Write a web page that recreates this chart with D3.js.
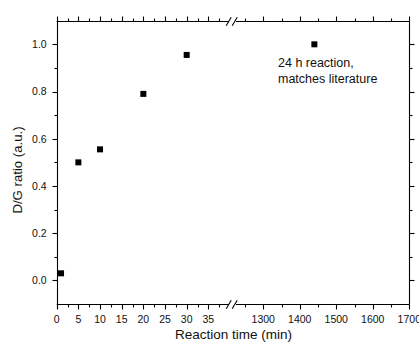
<!DOCTYPE html>
<html><head><meta charset="utf-8">
<script src="https://cdn.jsdelivr.net/npm/d3@7"></script>
<style>
html,body{margin:0;padding:0;background:#fff;overflow:hidden;}
text{font-family:"Liberation Sans",Arial,sans-serif;fill:#111;}
</style></head>
<body><svg id="c" width="419" height="347"></svg>
<script>
// Data
const times = [1, 5, 10, 20, 30, 1440];
const ratios = [0.03, 0.50, 0.555, 0.79, 0.955, 1.0];
const xTicksSeg1 = [0, 5, 10, 15, 20, 25, 30, 35];
const xTicksSeg2 = [1300, 1400, 1500, 1600, 1700];
const yTicks = [0.0, 0.2, 0.4, 0.6, 0.8, 1.0];
const annotation = ["24 h reaction,", "matches literature"];
const xTitle = "Reaction time (min)";
const yTitle = "D/G ratio (a.u.)";

const svg = d3.select("#c");
const L = 56.7, R = 409.3, T = 20.7, B = 304;
const sx1 = d3.scaleLinear().domain([0, 40]).range([L, 230]);
const sx2 = d3.scaleLinear().domain([1250, 1700]).range([245, R]);
const sy = d3.scaleLinear().domain([-0.1, 1.1]).range([B, T]);
const xs = v => v <= 40 ? sx1(v) : sx2(v);

const g = svg.append("g");
const stroke = "#000";

const minor1 = d3.range(2.5, 40, 5);
const minor2 = d3.range(1250, 1700, 100);
const yMinor = d3.range(0.1, 1.0, 0.2);

function seg(ax, ay, bx, by, w) {
  g.append("line").attr("x1", ax).attr("y1", ay).attr("x2", bx).attr("y2", by)
    .attr("stroke", stroke).attr("stroke-width", w || 1.1);
}

// horizontal axes with break (bottom and top)
[[B, 1], [T, -1]].forEach(([yy, dir]) => {
  const yp = Math.round(yy) + 0.5;
  seg(L, yp, 229, yp);
  seg(236, yp, R, yp);
  [228.7, 234.7].forEach(cx => seg(cx - 2.5, yp + 4.3, cx + 2.5, yp - 4.3));
  xTicksSeg1.forEach(v => { const xx = Math.round(sx1(v)) + 0.5; seg(xx, yp, xx, yp + dir * 5); });
  xTicksSeg2.forEach(v => { const xx = Math.round(sx2(v)) + 0.5; seg(xx, yp, xx, yp + dir * 5); });
  minor1.forEach(v => { const xx = Math.round(sx1(v)) + 0.5; seg(xx, yp, xx, yp + dir * 3); });
  minor2.forEach(v => { const xx = Math.round(sx2(v)) + 0.5; seg(xx, yp, xx, yp + dir * 3); });
});

// vertical axes
[[L, -1], [R, 1]].forEach(([xx, dir]) => {
  const xp = Math.round(xx) + 0.5;
  seg(xp, T, xp, B + 0.5);
  yTicks.forEach(v => { const yy = Math.round(sy(v)) + 0.5; seg(xp, yy, xp + dir * 5, yy); });
  yMinor.forEach(v => { const yy = Math.round(sy(v)) + 0.5; seg(xp, yy, xp + dir * 3, yy); });
});

// tick labels
const fmtY = d3.format(".1f");
yTicks.forEach(v => {
  g.append("text").attr("x", 46.7).attr("y", sy(v)).attr("dy", "0.36em")
    .attr("text-anchor", "end").attr("font-size", "10.5px").text(fmtY(v));
});
xTicksSeg1.forEach(v => {
  g.append("text").attr("x", sx1(v)).attr("y", 322.5).attr("text-anchor", "middle")
    .attr("font-size", "10.5px").text(v);
});
xTicksSeg2.forEach(v => {
  g.append("text").attr("x", sx2(v)).attr("y", 322.5).attr("text-anchor", "middle")
    .attr("font-size", "10.5px").text(v);
});

// titles
g.append("text").attr("x", 233.5).attr("y", 339).attr("text-anchor", "middle")
  .attr("font-size", "13.5px").text(xTitle);
g.append("text").attr("transform", "translate(21.5,170) rotate(-90)")
  .attr("text-anchor", "middle").attr("font-size", "13.2px").text(yTitle);

// points
g.selectAll("rect.pt").data(times.map((t, i) => [t, ratios[i]])).enter()
  .append("rect").attr("class", "pt")
  .attr("x", d => xs(d[0]) - 3).attr("y", d => sy(d[1]) - 3)
  .attr("width", 6).attr("height", 6).attr("fill", "#000");

// annotation
annotation.forEach((s, i) => {
  g.append("text").attr("x", 278).attr("y", 66.7 + i * 16)
    .attr("font-size", "12.5px").text(s);
});
</script></body></html>
